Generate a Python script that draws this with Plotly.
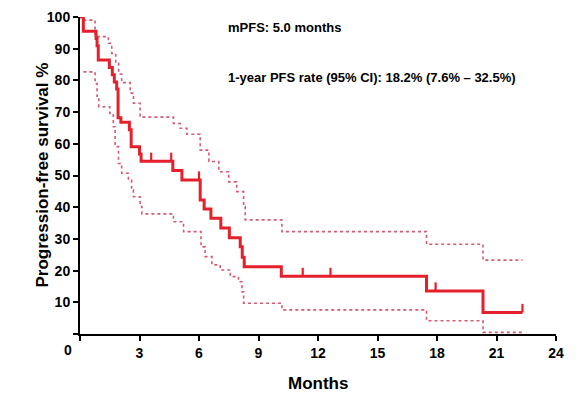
import plotly.graph_objects as go

# Kaplan-Meier estimate (months, PFS %) - step points
km_months = [0, 0.17, 0.81, 0.86, 0.92, 1.48, 1.63, 1.73, 1.85, 1.92, 2.06, 2.49, 2.58, 3.00, 3.08,
             4.68, 5.14, 6.06, 6.26, 6.60, 7.10, 7.53, 8.08, 8.18, 8.28, 10.15, 17.47, 20.32, 22.31]
km_pfs = [100, 95.5, 93.2, 90.9, 86.4, 84.1, 81.8, 79.5, 77.3, 68.2, 66.8, 64.4, 59.1, 56.8, 54.5,
          51.6, 48.6, 42.3, 39.4, 36.5, 33.4, 30.4, 27.5, 24.2, 21.2, 18.2, 13.6, 6.8, 6.8]

# Censored observations
cens_months = [3.59, 4.60, 6.00, 11.23, 12.63, 17.93, 22.31]
cens_pfs = [54.5, 54.5, 48.6, 18.2, 18.2, 13.6, 6.8]

# Upper 95% CI
up_months = [0.17, 0.76, 1.43, 1.60, 1.80, 1.95, 2.10, 2.53, 2.70, 3.03, 4.71, 5.05, 5.39, 6.06,
             6.50, 7.00, 7.50, 7.90, 8.25, 8.33, 10.18, 17.47, 20.32, 22.31]
up_pfs = [99, 93.8, 91.7, 88.5, 85.4, 82, 79.3, 76, 72.8, 68.4, 66.4, 64.9, 63.0, 58,
          54.4, 51.2, 48, 44.9, 40.2, 36, 32.3, 28.3, 23.3, 23.3]

# Lower 95% CI
lo_months = [0.17, 0.76, 0.86, 0.95, 1.50, 1.68, 1.77, 1.94, 2.10, 2.44, 2.60, 2.69, 3.03, 3.12,
             4.71, 5.22, 6.10, 6.31, 6.65, 7.07, 7.58, 7.99, 8.17, 8.25, 10.18, 17.47, 20.32, 22.31]
lo_pfs = [82.7, 79, 75, 71.7, 69.6, 65.4, 59.1, 53.8, 50.7, 48.6, 45.4, 43.3, 40.2, 37.9,
          35.4, 32.3, 27.5, 24.4, 21.8, 20.2, 18.1, 16.5, 13.3, 9.7, 7.6, 4.2, 0.5, 0.5]

x_ticks = [0, 3, 6, 9, 12, 15, 18, 21, 24]
x_ticktext = ["", "3", "6", "9", "12", "15", "18", "21", "24"]
y_ticks = [0, 10, 20, 30, 40, 50, 60, 70, 80, 90, 100]
y_ticktext = ["", "10", "20", "30", "40", "50", "60", "70", "80", "90", "100"]

RED = "#e3202c"
CI = "#d65a70"
FONT = "Liberation Sans, Arial, sans-serif"

# page offset (body margin) and figure geometry
OFF = 8
W, H = 572, 391
l, r, t, b = 72, 24, 9, 65
pw, ph = W - l - r, H - t - b

def px(xp):
    return (xp - OFF - l) / pw

def py(yp):
    return (H - b - (yp - OFF)) / ph

fig = go.Figure()
fig.add_trace(go.Scatter(x=up_months, y=up_pfs, mode="lines", line_shape="hv",
                         line=dict(color=CI, width=1.6, dash="dot"), cliponaxis=False))
fig.add_trace(go.Scatter(x=lo_months, y=lo_pfs, mode="lines", line_shape="hv",
                         line=dict(color=CI, width=1.6, dash="dot"), cliponaxis=False))
fig.add_trace(go.Scatter(x=km_months, y=km_pfs, mode="lines", line_shape="hv",
                         line=dict(color=RED, width=3), cliponaxis=False))

cx, cy = [], []
for m, s in zip(cens_months, cens_pfs):
    cx += [m, m, None]
    cy += [s, s + 2.7, None]
fig.add_trace(go.Scatter(x=cx, y=cy, mode="lines", line=dict(color=RED, width=2.2),
                         cliponaxis=False))

bold = lambda sz: dict(size=sz, family=FONT, weight="bold", color="black")

fig.update_layout(
    width=W, height=H,
    margin=dict(l=l, r=r, t=t, b=b, autoexpand=False),
    paper_bgcolor="white", plot_bgcolor="white",
    showlegend=False,
    font=dict(family=FONT, color="black"),
    xaxis=dict(range=[0, 24], tickvals=x_ticks, ticktext=x_ticktext,
               showgrid=False, zeroline=False, showline=True, linecolor="black", linewidth=2,
               ticks="outside", ticklen=5, tickwidth=2, tickcolor="black",
               tickfont=bold(14)),
    yaxis=dict(range=[0, 100], tickvals=y_ticks, ticktext=y_ticktext,
               showgrid=False, zeroline=False, showline=True, linecolor="black", linewidth=2,
               ticks="outside", ticklen=5, tickwidth=2, tickcolor="black",
               tickfont=bold(14)),
    annotations=[
        dict(text="0", x=px(68), y=py(350), xref="paper", yref="paper", showarrow=False,
             xanchor="center", yanchor="middle", font=bold(14)),
        dict(text="Months", x=px(318), y=py(383), xref="paper", yref="paper", showarrow=False,
             yanchor="middle", font=bold(17)),
        dict(text="Progression-free survival %", x=px(30), y=py(175), xref="paper", yref="paper",
             textangle=-90, showarrow=False, yanchor="middle", font=bold(17)),
        dict(text="mPFS: 5.0 months", x=px(226), y=py(27), xref="paper", yref="paper",
             xanchor="left", yanchor="middle", showarrow=False, font=bold(13)),
        dict(text="1-year PFS rate (95% CI): 18.2% (7.6% \u2013 32.5%)", x=px(226), y=py(77),
             xref="paper", yref="paper", xanchor="left", yanchor="middle", showarrow=False,
             font=bold(13)),
    ],
)

fig.write_html("out.html")
